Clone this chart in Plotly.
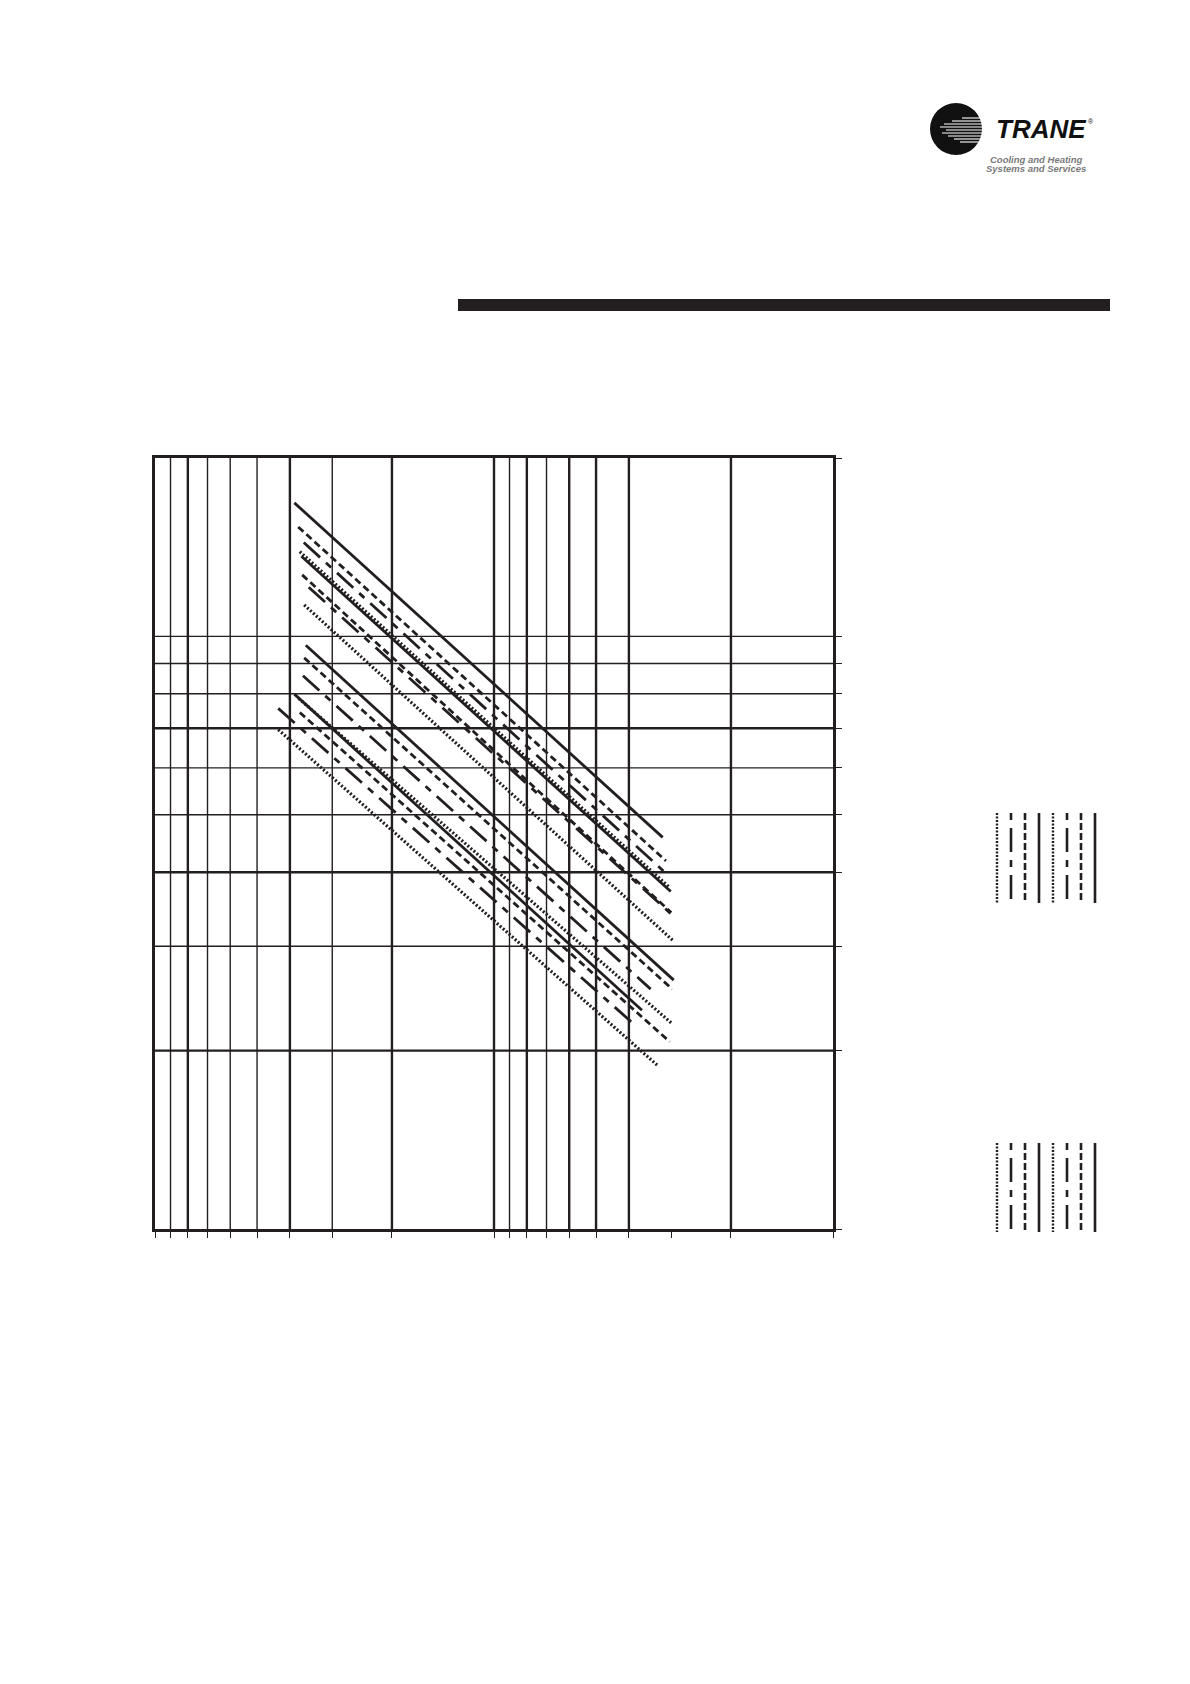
import plotly.graph_objects as go

# ---------------- data ----------------
# horizontal axis (log, reversed) grid values
x_grid_heavy = [80, 40, 20, 10, 8, 6, 5, 4, 2]
x_grid_light = [90, 70, 60, 50, 30, 9, 7]
x_tick_vals = [100, 90, 80, 70, 60, 50, 40, 30, 20, 10, 9, 8, 7, 6, 5, 4, 3, 2, 1]
# vertical axis (log) grid values
y_grid_heavy = [7, 4, 2]
y_grid_light = [10, 9, 8, 6, 5, 3]
y_tick_vals = [20, 10, 9, 8, 7, 6, 5, 4, 3, 2, 1]

# series: start/end points (x, y) of each straight characteristic line
series_names = ["U1", "U2", "U3", "U4", "U5", "U6", "U7", "U8",
                "L1", "L2", "L3", "L4", "L5", "L6", "L7", "L8"]
series_styles = ["solid", "dash", "ldd", "dot", "solid", "dash", "ldd", "dot",
                 "solid", "dash", "ldd", "dot", "solid", "dash", "ldd", "dot"]
x_start = [38.8, 37.8, 36.4, 37.4, 37.0, 36.8, 35.2, 36.3,
           35.9, 36.3, 36.6, 37.7, 38.8, 37.4, 43.3, 43.3]
y_start = [16.8, 15.3, 14.4, 13.9, 13.65, 12.7, 12.1, 11.3,
           9.66, 9.20, 8.58, 7.86, 7.99, 7.44, 7.56, 6.96]
x_end = [3.18, 3.11, 3.09, 3.05, 3.01, 3.00, 3.00, 2.97,
         2.95, 2.98, 3.45, 2.98, 3.66, 3.03, 3.88, 3.30]
y_end = [4.58, 4.18, 3.97, 3.78, 3.71, 3.42, 3.40, 3.07,
         2.63, 2.54, 2.54, 2.22, 2.34, 2.07, 2.22, 1.89]

legend_styles = ["dot", "ldd", "dash", "solid", "dot", "ldd", "dash", "solid"]

# ---------------- layout geometry ----------------
W, H = 1190, 1684
PL, PR, PT, PB = 147, 825, 450, 1221
INK = "#231f20"

DASH = {"solid": "solid", "dash": "7px,4px", "ldd": "22px,8px,7px,8px", "dot": "2px,2px"}
LEG_DASH = {"solid": "solid", "dash": "7px,3px", "ldd": "7px,8px,24px,8px", "dot": "2px,1.5px"}


def px(xp):
    return (xp - PL) / (PR - PL)


def py(yp):
    return (PB - yp) / (PB - PT)


fig = go.Figure()

# grid lines as traces
def add_grid(vals, width, vertical):
    xs, ys = [], []
    for v in vals:
        if vertical:
            xs += [v, v, None]
            ys += [1, 20, None]
        else:
            xs += [1, 100, None]
            ys += [v, v, None]
    fig.add_trace(go.Scatter(x=xs, y=ys, mode="lines", hoverinfo="skip",
                             line=dict(color=INK, width=width), showlegend=False))

add_grid(x_grid_light, 1.4, True)
add_grid(x_grid_heavy, 2.4, True)
add_grid(y_grid_light, 1.4, False)
add_grid(y_grid_heavy, 2.4, False)

for i, name in enumerate(series_names):
    st = series_styles[i]
    fig.add_trace(go.Scatter(
        x=[x_start[i], x_end[i]], y=[y_start[i], y_end[i]], mode="lines",
        name=name, showlegend=False,
        line=dict(color=INK, width=3.2 if st == "dot" else 2.8, dash=DASH[st])))

shapes = []
# header bar
shapes.append(dict(type="rect", xref="paper", yref="paper",
                   x0=px(450), x1=px(1102), y0=py(303), y1=py(291),
                   fillcolor=INK, line=dict(width=0)))
# logo circle
cx, cy, r = 948, 121, 26
shapes.append(dict(type="circle", xref="paper", yref="paper",
                   x0=px(cx - r), x1=px(cx + r), y0=py(cy + r), y1=py(cy - r),
                   fillcolor="#111111", line=dict(width=0)))
stripe_offsets = [-11, -8, -5, -2, 1, 4, 7, 10, 13]
stripe_starts = [6, -4, -12, -16, -10, -14, -8, -2, 4]
for off, s0 in zip(stripe_offsets, stripe_starts):
    shapes.append(dict(type="line", xref="paper", yref="paper",
                       x0=px(cx + s0), x1=px(cx + r + 2), y0=py(cy + off), y1=py(cy + off),
                       line=dict(color="white", width=1.1)))

# legend samples (vertical)
leg_x = [989, 1003, 1017, 1031, 1045, 1059, 1073, 1087]
for (ytop, ybot) in [(805, 895), (1135, 1224)]:
    for xx, st in zip(leg_x, legend_styles):
        shapes.append(dict(type="line", xref="paper", yref="paper",
                           x0=px(xx), x1=px(xx), y0=py(ytop), y1=py(ybot),
                           line=dict(color=INK, width=2.6 if st != "dot" else 2.4, dash=LEG_DASH[st])))

annotations = [
    dict(text="<b><i>TRANE</i></b>", x=px(986), y=py(121), xref="paper", yref="paper",
         xanchor="left", yanchor="middle", showarrow=False,
         font=dict(family="Liberation Sans", size=26, color="#111111")),
    dict(text="®", x=px(1078), y=py(113), xref="paper", yref="paper",
         xanchor="left", yanchor="middle", showarrow=False,
         font=dict(family="Liberation Sans", size=7, color="#111111")),
    dict(text="<b><i>Cooling and Heating</i></b>", x=px(1028), y=py(151), xref="paper", yref="paper",
         xanchor="center", yanchor="middle", showarrow=False,
         font=dict(family="Liberation Sans", size=9.5, color="#7a7a7a")),
    dict(text="<b><i>Systems and Services</i></b>", x=px(1028), y=py(160), xref="paper", yref="paper",
         xanchor="center", yanchor="middle", showarrow=False,
         font=dict(family="Liberation Sans", size=9.5, color="#7a7a7a")),
]

fig.update_layout(
    width=W, height=H,
    margin=dict(l=PL, r=W - PR, t=PT, b=H - PB, pad=0),
    paper_bgcolor="white", plot_bgcolor="white",
    shapes=shapes, annotations=annotations, showlegend=False,
    xaxis=dict(type="log", range=[2, 0], showgrid=False, zeroline=False,
               showline=True, mirror=True, linewidth=2.6, linecolor=INK,
               ticks="outside", tickvals=x_tick_vals, ticklen=6, tickwidth=1.4,
               tickcolor=INK, showticklabels=False),
    yaxis=dict(type="log", range=[0, 1.30103], showgrid=False, zeroline=False,
               side="right", showline=True, mirror=True, linewidth=2.6, linecolor=INK,
               ticks="outside", tickvals=y_tick_vals, ticklen=6, tickwidth=1.4,
               tickcolor=INK, showticklabels=False),
)

fig.write_html("out.html")
